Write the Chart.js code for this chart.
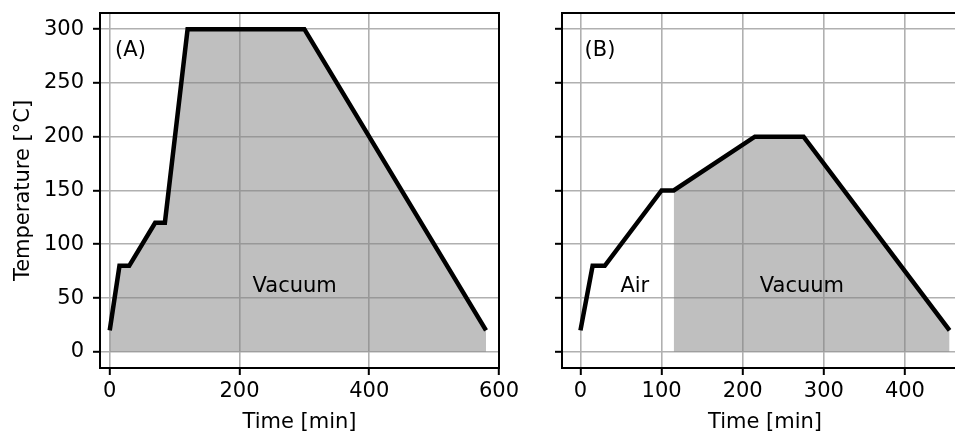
<!DOCTYPE html>
<html>
<head>
<meta charset="utf-8">
<script src="https://cdn.jsdelivr.net/npm/chart.js@4"></script>
<style>
  html, body { margin: 0; padding: 0; background: #fff; overflow: hidden; }
  #wrap { position: relative; width: 955px; height: 434px; overflow: hidden; }
  #chartA { position: absolute; left: 0; top: 0; }
  #chartB { position: absolute; left: 530px; top: 0; }
</style>
</head>
<body>
<div id="wrap">
  <canvas id="chartA" width="530" height="434"></canvas>
  <canvas id="chartB" width="450" height="434"></canvas>
</div>
<script>
// (A) whole run in vacuum
const timeA = [0, 15, 30, 70, 85, 120, 300, 580];
const tempA = [20, 80, 80, 120, 120, 300, 300, 20];
// (B) air first, vacuum from 115 min
const timeB = [0, 15, 30, 100, 115, 215, 275, 455];
const tempB = [20, 80, 80, 150, 150, 200, 200, 20];
const vacuumStartB = 115;

const yTicks = [0, 50, 100, 150, 200, 250, 300];
const xTicksA = [0, 200, 400, 600];
const xTicksB = [0, 100, 200, 300, 400];

const notesA = [
  { text: '(A)', x: 32, y: 280 },
  { text: 'Vacuum', x: 285, y: 61 }
];
const notesB = [
  { text: '(B)', x: 24, y: 280 },
  { text: 'Air', x: 67, y: 61 },
  { text: 'Vacuum', x: 273, y: 61 }
];

const FONT = 'DejaVu Sans';
const FSIZE = 21;
const fillGrey = 'rgba(128, 128, 128, 0.5)';

const toPoints = (xs, ys) => xs.map((x, i) => ({ x: x, y: ys[i] }));

const frameAndNotes = {
  id: 'frameAndNotes',
  afterDatasetsDraw(chart, args, opts) {
    const ctx = chart.ctx;
    const a = chart.chartArea;
    ctx.save();
    ctx.strokeStyle = '#000';
    ctx.lineWidth = 2;
    ctx.strokeRect(a.left, a.top, a.right - a.left, a.bottom - a.top);
    ctx.font = FSIZE + 'px "' + FONT + '"';
    ctx.fillStyle = '#000';
    ctx.textAlign = 'center';
    ctx.textBaseline = 'middle';
    opts.notes.forEach(n => {
      ctx.fillText(n.text, chart.scales.x.getPixelForValue(n.x), chart.scales.y.getPixelForValue(n.y));
    });
    ctx.restore();
  }
};

function makeScales(xmin, xmax, xTicks, yWidth, showYLabels) {
  return {
    x: {
      type: 'linear',
      min: xmin,
      max: xmax,
      afterBuildTicks: s => { s.ticks = xTicks.map(v => ({ value: v })); },
      afterFit: s => { s.height = 66; s.paddingLeft = 0; s.paddingRight = 0; },
      border: { display: false },
      grid: { color: '#b0b0b0', lineWidth: 1.6, tickLength: 7, tickColor: '#000', tickWidth: 2 },
      ticks: { color: '#000', font: { family: FONT, size: FSIZE }, padding: 4, maxRotation: 0 },
      title: { display: true, text: 'Time [min]', color: '#000', font: { family: FONT, size: FSIZE }, padding: { top: 0, bottom: -1 } }
    },
    y: {
      min: -15,
      max: 315,
      afterBuildTicks: s => { s.ticks = yTicks.map(v => ({ value: v })); },
      afterFit: s => { s.width = yWidth; s.paddingTop = 0; s.paddingBottom = 0; },
      border: { display: false },
      grid: { color: '#b0b0b0', lineWidth: 1.6, tickLength: 7, tickColor: '#000', tickWidth: 2 },
      ticks: {
        color: '#000', font: { family: FONT, size: FSIZE }, padding: 9,
        callback: v => showYLabels ? String(v) : ''
      },
      title: {
        display: showYLabels, text: 'Temperature [°C]', color: '#000',
        font: { family: FONT, size: FSIZE }, padding: { top: 11, bottom: 0 }
      }
    }
  };
}

const lineStyle = {
  borderColor: '#000',
  borderWidth: 4.5,
  borderJoinStyle: 'miter',
  pointRadius: 0,
  tension: 0
};

new Chart(document.getElementById('chartA'), {
  type: 'line',
  data: {
    datasets: [Object.assign({
      label: 'A',
      data: toPoints(timeA, tempA),
      fill: 'origin',
      backgroundColor: fillGrey
    }, lineStyle)]
  },
  options: {
    responsive: false,
    animation: false,
    devicePixelRatio: 1,
    layout: { padding: { left: 0, right: 31, top: 13, bottom: 0 } },
    plugins: { legend: { display: false }, tooltip: { enabled: false }, frameAndNotes: { notes: notesA } },
    scales: makeScales(-15, 600, xTicksA, 100, true)
  },
  plugins: [frameAndNotes]
});

const vacB = toPoints(timeB, tempB).filter(p => p.x >= vacuumStartB);

new Chart(document.getElementById('chartB'), {
  type: 'line',
  data: {
    datasets: [
      Object.assign({ label: 'B', data: toPoints(timeB, tempB), fill: false }, lineStyle),
      {
        label: 'Vacuum',
        data: vacB,
        fill: 'origin',
        backgroundColor: fillGrey,
        borderColor: 'rgba(128,128,128,0.6)',
        borderWidth: 1,
        pointRadius: 0,
        tension: 0
      }
    ]
  },
  options: {
    responsive: false,
    animation: false,
    devicePixelRatio: 1,
    layout: { padding: { left: 0, right: 12, top: 13, bottom: 0 } },
    plugins: { legend: { display: false }, tooltip: { enabled: false }, frameAndNotes: { notes: notesB } },
    scales: makeScales(-22.75, 477.75, xTicksB, 32, false)
  },
  plugins: [frameAndNotes]
});
</script>
</body>
</html>
